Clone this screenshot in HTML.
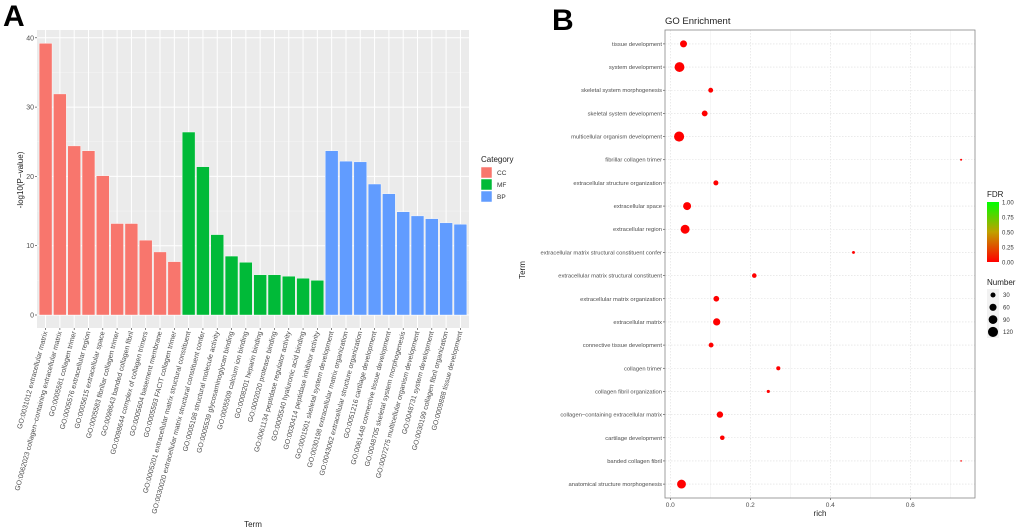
<!DOCTYPE html>
<html><head><meta charset="utf-8"><style>
body{margin:0;background:#fff;font-family:"Liberation Sans",Arial,sans-serif}
svg{display:block}
</style></head><body>
<svg id="s" width="1020" height="532" xmlns="http://www.w3.org/2000/svg" font-family="Liberation Sans, Arial, sans-serif">
<text x="3" y="26" font-size="30" font-weight="bold">A</text>
<text x="552" y="30" font-size="30" font-weight="bold">B</text>
<g id="ga"></g>
<g id="gb"></g>
</svg>
<script>
// Panel A data
const barTerms=["GO:0031012 extracellular matrix","GO:0062023 collagen−containing extracellular matrix","GO:0005581 collagen trimer","GO:0005576 extracellular region","GO:0005615 extracellular space","GO:0005583 fibrillar collagen trimer","GO:0098643 banded collagen fibril","GO:0098644 complex of collagen trimers","GO:0005604 basement membrane","GO:0005593 FACIT collagen trimer","GO:0005201 extracellular matrix structural constituent","GO:0030020 extracellular matrix structural constituent confer","GO:0005198 structural molecule activity","GO:0005539 glycosaminoglycan binding","GO:0005509 calcium ion binding","GO:0008201 heparin binding","GO:0002020 protease binding","GO:0061134 peptidase regulator activity","GO:0005540 hyaluronic acid binding","GO:0030414 peptidase inhibitor activity","GO:0001501 skeletal system development","GO:0030198 extracellular matrix organization","GO:0043062 extracellular structure organization","GO:0051216 cartilage development","GO:0061448 connective tissue development","GO:0048705 skeletal system morphogenesis","GO:0007275 multicellular organism development","GO:0048731 system development","GO:0030199 collagen fibril organization","GO:0009888 tissue development"];
const barValues=[39.2,31.9,24.4,23.7,20.1,13.2,13.2,10.8,9.1,7.7,26.4,21.4,11.6,8.5,7.6,5.8,5.8,5.6,5.3,5.0,23.7,22.2,22.1,18.9,17.5,14.9,14.3,13.9,13.3,13.1];
const barCats=["CC","CC","CC","CC","CC","CC","CC","CC","CC","CC","MF","MF","MF","MF","MF","MF","MF","MF","MF","MF","BP","BP","BP","BP","BP","BP","BP","BP","BP","BP"];
const catNames=["CC","MF","BP"];
const yTicksA=[0,10,20,30,40];
// Panel B data
const dotTerms=["tissue development","system development","skeletal system morphogenesis","skeletal system development","multicellular organism development","fibrillar collagen trimer","extracellular structure organization","extracellular space","extracellular region","extracellular matrix structural constituent confer","extracellular matrix structural constituent","extracellular matrix organization","extracellular matrix","connective tissue development","collagen trimer","collagen fibril organization","collagen−containing extracellular matrix","cartilage development","banded collagen fibril","anatomical structure morphogenesis"];
const dotRich=[0.033,0.023,0.101,0.086,0.022,0.727,0.114,0.042,0.037,0.458,0.21,0.115,0.116,0.102,0.27,0.245,0.124,0.13,0.727,0.028];
const dotCount=[58,115,28,40,120,5,30,75,95,10,25,38,62,28,20,12,48,25,3,92];
const dotFDR=[0,0,0,0,0,0,0,0,0,0,0,0,0,0,0,0,0,0,0,0];
const xTicksB=[0,0.2,0.4,0.6];
const sizeLegend=[30,60,90,120];
const fdrTicks=["1.00","0.75","0.50","0.25","0.00"];

const NS="http://www.w3.org/2000/svg";
function mk(p,tag,at,txt){const e=document.createElementNS(NS,tag);for(const k in at)e.setAttribute(k,at[k]);if(txt!==undefined)e.textContent=txt;p.appendChild(e);return e;}
const colors={CC:"#F8766D",MF:"#00BA38",BP:"#619CFF"};

// Panel A
const ga=document.getElementById('ga');
const AX0=37,AX1=469,AY0=30,AY1=328;
const yA=v=>315-v*6.93;
const pitch=(AX1-AX0)/(barValues.length-1+1.2);
const xA=i=>AX0+pitch*(0.6+i);
let bg=mk(ga,'rect',{x:AX0,y:AY0,width:AX1-AX0,height:AY1-AY0,fill:"#EBEBEB"});

for(let v=5;v<=40;v+=10){mk(ga,'line',{x1:AX0,x2:AX1,y1:yA(v),y2:yA(v),stroke:"#f5f5f5","stroke-width":0.5});}
yTicksA.forEach(v=>{mk(ga,'line',{x1:AX0,x2:AX1,y1:yA(v),y2:yA(v),stroke:"#fff","stroke-width":1});
 mk(ga,'line',{x1:AX0-2,x2:AX0,y1:yA(v),y2:yA(v),stroke:"#333","stroke-width":0.6});
 const t=mk(ga,'text',{x:AX0-3,y:yA(v)+2.5,"font-size":7,fill:"#4d4d4d","text-anchor":"end"},v);
 });
barValues.forEach((v,i)=>{const x=xA(i);
 mk(ga,'line',{x1:x,x2:x,y1:AY0,y2:AY1,stroke:"#fff","stroke-width":1});});
barValues.forEach((v,i)=>{const x=xA(i),w=pitch*0.9;
 const r=mk(ga,'rect',{x:x-w/2,y:yA(v),width:w,height:yA(0)-yA(v),fill:colors[barCats[i]],stroke:"#fff","stroke-width":0.4});
 
 mk(ga,'line',{x1:x,x2:x,y1:AY1,y2:AY1+2,stroke:"#333","stroke-width":0.6});
 const t=mk(ga,'text',{transform:`translate(${x+2},${AY1+4}) rotate(-75)`,"font-size":7,fill:"#4d4d4d","text-anchor":"end"},barTerms[i]);
 });
let t=mk(ga,'text',{transform:"translate(23,180) rotate(-90)","font-size":8,fill:"#222","text-anchor":"middle"},"-log10(P−value)");

t=mk(ga,'text',{x:253,y:527,"font-size":8,fill:"#222","text-anchor":"middle"},"Term");

t=mk(ga,'text',{x:481,y:162,"font-size":8,fill:"#222"},"Category");

catNames.forEach((c,i)=>{const y=167+i*12;
 const r=mk(ga,'rect',{x:481,y:y,width:11,height:11,fill:colors[c],stroke:"#fff","stroke-width":0.5});
 
 const l=mk(ga,'text',{x:497,y:y+8,"font-size":6.5,fill:"#333"},c);
 });

// Panel B
const gb=document.getElementById('gb');
const BX0=665,BX1=975,BY0=30,BY1=498;
const xB=v=>670.3+v*400;
const rowP=(BY1-BY0)/(dotTerms.length-1+1.2);
const yB=i=>BY0+rowP*(0.6+i);
const rB=n=>Math.sqrt(n)*0.46;
t=mk(gb,'text',{x:665,y:24,"font-size":9.5,fill:"#222"},"GO Enrichment");

[0.1,0.3,0.5,0.7].forEach(v=>mk(gb,'line',{x1:xB(v),x2:xB(v),y1:BY0,y2:BY1,stroke:"#ececec","stroke-width":0.5}));
xTicksB.forEach(v=>{mk(gb,'line',{x1:xB(v),x2:xB(v),y1:BY0,y2:BY1,stroke:"#ddd","stroke-width":0.6,"stroke-dasharray":"1.5,1.5"});
 mk(gb,'line',{x1:xB(v),x2:xB(v),y1:BY1,y2:BY1+2,stroke:"#333","stroke-width":0.6});
 const l=mk(gb,'text',{x:xB(v),y:BY1+9,"font-size":6.5,fill:"#4d4d4d","text-anchor":"middle"},v.toFixed(1));
 });
dotTerms.forEach((d,i)=>{const y=yB(i);
 mk(gb,'line',{x1:BX0,x2:BX1,y1:y,y2:y,stroke:"#ddd","stroke-width":0.6,"stroke-dasharray":"1.5,1.5"});
 mk(gb,'line',{x1:BX0-2,x2:BX0,y1:y,y2:y,stroke:"#333","stroke-width":0.6});
 const l=mk(gb,'text',{x:BX0-3,y:y+2,"font-size":5.8,fill:"#4d4d4d","text-anchor":"end"},d);
 });
let br=mk(gb,'rect',{x:BX0,y:BY0,width:BX1-BX0,height:BY1-BY0,fill:"none",stroke:"#888","stroke-width":0.8});

function fdrColor(f){const r=Math.round(255*(1-f)),g=Math.round(255*f);return `rgb(${r},${g},0)`;}
dotTerms.forEach((d,i)=>{const c=mk(gb,'circle',{cx:xB(dotRich[i]),cy:yB(i),r:rB(dotCount[i]),fill:fdrColor(dotFDR[i])});
 });
t=mk(gb,'text',{x:820,y:516,"font-size":8,fill:"#222","text-anchor":"middle"},"rich");

t=mk(gb,'text',{transform:"translate(525,270) rotate(-90)","font-size":8,fill:"#222","text-anchor":"middle"},"Term");

// FDR legend
const defs=mk(gb,'defs',{});const lg=mk(defs,'linearGradient',{id:"fg",x1:0,y1:1,x2:0,y2:0});
mk(lg,'stop',{offset:"0","stop-color":"#ff0000"});mk(lg,'stop',{offset:"0.5","stop-color":"#c0a000"});mk(lg,'stop',{offset:"1","stop-color":"#00ff00"});
t=mk(gb,'text',{x:987,y:197,"font-size":8,fill:"#222"},"FDR");

br=mk(gb,'rect',{x:987,y:202,width:12,height:60,fill:"url(#fg)"});

fdrTicks.forEach((s,i)=>{const l=mk(gb,'text',{x:1002,y:204.5+i*15,"font-size":6,fill:"#333"},s);
 });
t=mk(gb,'text',{x:987,y:285,"font-size":8,fill:"#222"},"Number");

mk(gb,'rect',{x:987,y:289,width:12,height:49,fill:"#f2f2f2"});
sizeLegend.forEach((n,i)=>{const y=295+i*12.3;
 const c=mk(gb,'circle',{cx:993,cy:y,r:rB(n),fill:"#000"});
 
 const l=mk(gb,'text',{x:1003,y:y+2.2,"font-size":6,fill:"#333"},n);
 });
</script>
</body></html>
